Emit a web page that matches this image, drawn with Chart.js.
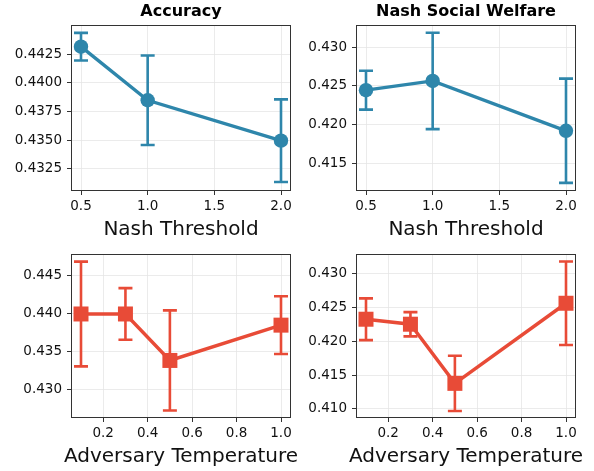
<!DOCTYPE html>
<html>
<head>
<meta charset="utf-8">
<script src="https://cdn.jsdelivr.net/npm/chart.js@4.4.1/dist/chart.umd.min.js"></script>
<style>
  html, body { margin: 0; padding: 0; background: #fff; }
  #wrap { position: relative; width: 594px; height: 471px; }
  #wrap canvas { position: absolute; left: 0; top: 0; }
</style>
</head>
<body>
<div id="wrap">
  <canvas id="c1" width="594" height="471"></canvas>
  <canvas id="c2" width="594" height="471"></canvas>
  <canvas id="c3" width="594" height="471"></canvas>
  <canvas id="c4" width="594" height="471"></canvas>
</div>
<script>
// Data
const THRESH_X = [0.5, 1.0, 2.0];
const ACC_MEAN = [0.44316, 0.43849, 0.43497];
const ACC_ERR = [0.0012, 0.0039, 0.0036];
const NSW_MEAN = [0.42445, 0.42564, 0.41923];
const NSW_ERR = [0.0025, 0.0062, 0.0067];

const TEMP_X = [0.1, 0.3, 0.5, 1.0];
const ACC_T_MEAN = [0.4399, 0.4399, 0.43378, 0.43843];
const ACC_T_ERR = [0.0069, 0.0034, 0.0066, 0.0038];
const NSW_T_MEAN = [0.42328, 0.42254, 0.41376, 0.42565];
const NSW_T_ERR = [0.0031, 0.0018, 0.0041, 0.0062];

// Tick labels
const THRESH_TICKS = [0.5, 1.0, 1.5, 2.0];
const TEMP_TICKS = [0.2, 0.4, 0.6, 0.8, 1.0];
const ACC_TICKS = [0.4325, 0.4350, 0.4375, 0.4400, 0.4425];
const NSW_TICKS = [0.415, 0.420, 0.425, 0.430];
const ACC_T_TICKS = [0.430, 0.435, 0.440, 0.445];
const NSW_T_TICKS = [0.410, 0.415, 0.420, 0.425, 0.430];

const BLUE = '#2E86AB';
const RED = '#E84B37';

Chart.defaults.font.family = "'DejaVu Sans', sans-serif";
Chart.defaults.color = '#111';

// error bars, full frame (matplotlib style spines) and the x label
const errorBars = {
  id: 'errorBars',
  beforeDatasetsDraw(chart, args, opts) {
    const ctx = chart.ctx;
    const y = chart.scales.y;
    const meta = chart.getDatasetMeta(0);
    const vals = chart.data.datasets[0].data;
    ctx.save();
    ctx.strokeStyle = opts.color;
    ctx.lineWidth = 2.6;
    meta.data.forEach((pt, i) => {
      const e = opts.errors[i];
      const yt = y.getPixelForValue(vals[i].y + e);
      const yb = y.getPixelForValue(vals[i].y - e);
      ctx.beginPath();
      ctx.moveTo(pt.x, yt); ctx.lineTo(pt.x, yb);
      ctx.moveTo(pt.x - 7, yt); ctx.lineTo(pt.x + 7, yt);
      ctx.moveTo(pt.x - 7, yb); ctx.lineTo(pt.x + 7, yb);
      ctx.stroke();
    });
    ctx.restore();
  },
  afterDraw(chart, args, opts) {
    const a = chart.chartArea;
    const ctx = chart.ctx;
    ctx.save();
    ctx.strokeStyle = '#333';
    ctx.lineWidth = 1;
    ctx.strokeRect(Math.round(a.left) + 0.5, Math.round(a.top) + 0.5,
      Math.round(a.right - a.left) - 1, Math.round(a.bottom - a.top) - 1);
    // x label: drawn by hand so it is not squeezed to the plot width
    ctx.fillStyle = '#111';
    ctx.font = "20px 'DejaVu Sans', sans-serif";
    ctx.textAlign = 'center';
    ctx.textBaseline = 'alphabetic';
    ctx.fillText(opts.xLabel, (a.left + a.right) / 2, a.bottom + 44);
    ctx.restore();
  }
};

function makePanel(id, cfg) {
  const pts = cfg.xs.map((x, i) => ({ x: x, y: cfg.means[i] }));
  return new Chart(document.getElementById(id), {
    type: 'line',
    data: {
      datasets: [{
        data: pts,
        borderColor: cfg.color,
        borderWidth: 3.4,
        pointStyle: cfg.marker,
        pointRadius: cfg.marker === 'rect' ? 10.6 : 7.2,
        pointBackgroundColor: cfg.color,
        pointBorderWidth: 0,
        tension: 0
      }]
    },
    options: {
      responsive: false,
      animation: false,
      events: [],
      layout: { padding: cfg.pad },
      plugins: {
        legend: { display: false },
        tooltip: { enabled: false },
        title: {
          display: !!cfg.title,
          text: cfg.title || '',
          fullSize: false,
          color: '#000',
          font: { size: 16, weight: 'bold' },
          padding: { top: 2, bottom: 3.8 }
        },
        errorBars: { errors: cfg.errors, color: cfg.color, xLabel: cfg.xLabel }
      },
      scales: {
        x: {
          type: 'linear',
          min: cfg.xRange[0], max: cfg.xRange[1],
          afterBuildTicks: s => { s.ticks = cfg.xTicks.map(v => ({ value: v })); },
          afterFit: s => { s.height = cfg.xH; s.paddingLeft = 0; s.paddingRight = 0; },
          border: { display: false },
          grid: { color: '#e6e6e6', lineWidth: 0.8, tickColor: '#333', tickLength: 4, tickWidth: 1 },
          ticks: {
            padding: 3,
            color: '#111',
            font: { size: 13.5 },
            maxRotation: 0,
            callback: v => v.toFixed(1)
          }
        },
        y: {
          min: cfg.yRange[0], max: cfg.yRange[1],
          afterBuildTicks: s => { s.ticks = cfg.yTicks.map(v => ({ value: v })); },
          afterFit: s => { s.width = cfg.yW; s.paddingTop = 0; s.paddingBottom = 0; },
          border: { display: false },
          grid: { color: '#e6e6e6', lineWidth: 0.8, tickColor: '#333', tickLength: 4, tickWidth: 1 },
          ticks: {
            padding: 5,
            color: '#111',
            font: { size: 13.5 },
            callback: v => v.toFixed(cfg.yDec)
          }
        }
      }
    },
    plugins: [errorBars]
  });
}

makePanel('c1', {
  xs: THRESH_X, means: ACC_MEAN, errors: ACC_ERR, color: BLUE, marker: 'circle',
  title: 'Accuracy', xLabel: 'Nash Threshold',
  xRange: [0.425, 2.075], xTicks: THRESH_TICKS,
  yRange: [0.43058, 0.44505], yTicks: ACC_TICKS, yDec: 4,
  pad: { left: 0, right: 303, top: 0, bottom: 231 }, yW: 71, xH: 49
});
makePanel('c2', {
  xs: THRESH_X, means: NSW_MEAN, errors: NSW_ERR, color: BLUE, marker: 'circle',
  title: 'Nash Social Welfare', xLabel: 'Nash Threshold',
  xRange: [0.425, 2.075], xTicks: THRESH_TICKS,
  yRange: [0.41149, 0.43283], yTicks: NSW_TICKS, yDec: 3,
  pad: { left: 297, right: 18, top: 0, bottom: 231 }, yW: 59, xH: 49
});
makePanel('c3', {
  xs: TEMP_X, means: ACC_T_MEAN, errors: ACC_T_ERR, color: RED, marker: 'rect',
  xLabel: 'Adversary Temperature',
  xRange: [0.055, 1.045], xTicks: TEMP_TICKS,
  yRange: [0.4262, 0.4478], yTicks: ACC_T_TICKS, yDec: 3,
  pad: { left: 0, right: 303, top: 254, bottom: 0 }, yW: 71, xH: 53
});
makePanel('c4', {
  xs: TEMP_X, means: NSW_T_MEAN, errors: NSW_T_ERR, color: RED, marker: 'rect',
  xLabel: 'Adversary Temperature',
  xRange: [0.055, 1.045], xTicks: TEMP_TICKS,
  yRange: [0.40862, 0.43296], yTicks: NSW_T_TICKS, yDec: 3,
  pad: { left: 297, right: 18, top: 254, bottom: 0 }, yW: 59, xH: 53
});
</script>
</body>
</html>
